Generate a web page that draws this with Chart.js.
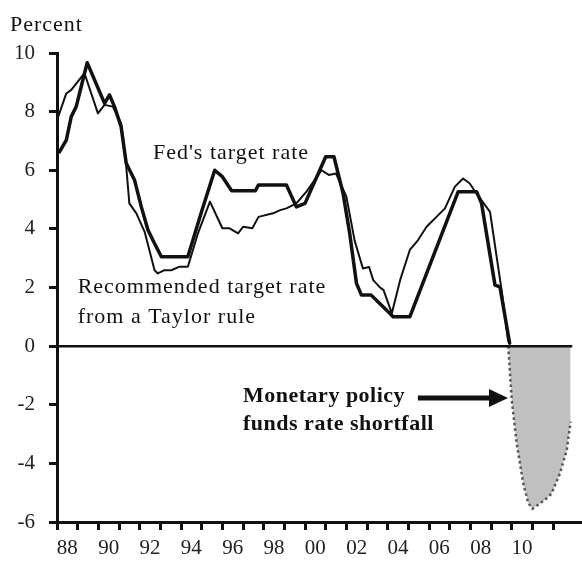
<!DOCTYPE html>
<html>
<head>
<meta charset="utf-8">
<script src="https://cdn.jsdelivr.net/npm/chart.js@4.4.1/dist/chart.umd.min.js"></script>
<style>
html,body{margin:0;padding:0;background:#fff;}
#wrap{width:582px;height:562px;position:relative;}
</style>
</head>
<body>
<div id="wrap"><canvas id="c" width="582" height="562"></canvas></div>
<script>
// ---- Data ----
const fedYears = [1988.0,1988.12,1988.45,1988.69,1988.93,1989.17,1989.46,1990.3,1990.54,1990.78,1991.1,1991.35,1991.75,1992.08,1992.4,1992.72,1993.05,1994.33,1995.0,1995.63,1996.0,1996.45,1997.6,1997.75,1999.1,1999.58,2000.0,2001.0,2001.4,2001.84,2002.16,2002.49,2002.73,2003.2,2003.6,2004.1,2004.26,2005.07,2007.41,2008.3,2008.54,2009.19,2009.43,2009.9];
const fedValues = [6.6,6.63,7.03,7.83,8.17,8.85,9.67,8.28,8.57,8.17,7.49,6.24,5.67,4.75,3.96,3.5,3.05,3.05,4.6,6.0,5.78,5.3,5.3,5.5,5.5,4.75,4.87,6.46,6.46,5.21,3.85,2.14,1.74,1.74,1.46,1.12,1.0,1.0,5.27,5.27,4.87,2.08,2.02,0.1];

const taylorYears = [1988.0,1988.45,1988.69,1989.33,1989.98,1990.3,1990.7,1991.1,1991.35,1991.5,1991.84,1992.24,1992.72,1992.88,1993.2,1993.53,1993.93,1994.33,1994.82,1995.4,1996.0,1996.35,1996.76,1997.0,1997.45,1997.75,1998.45,1998.8,1999.1,1999.58,2000.07,2000.8,2001.15,2001.5,2002.0,2002.4,2002.8,2003.1,2003.3,2003.6,2003.8,2004.2,2004.6,2005.07,2005.47,2005.88,2006.36,2006.77,2007.25,2007.65,2007.97,2008.3,2008.95,2009.51,2009.83];
const taylorValues = [7.71,8.62,8.74,9.31,7.94,8.23,8.17,7.6,6.12,4.87,4.53,3.9,2.59,2.48,2.59,2.59,2.71,2.71,3.85,4.93,4.02,4.02,3.85,4.07,4.02,4.41,4.53,4.64,4.7,4.87,5.27,6.0,5.84,5.89,5.1,3.6,2.65,2.7,2.25,2.02,1.91,1.12,2.25,3.28,3.62,4.07,4.41,4.7,5.44,5.72,5.55,5.2,4.58,1.91,0.15];

const shortfallYears = [2009.83,2010.0,2010.24,2010.56,2010.8,2011.0,2011.3,2011.6,2011.93,2012.33,2012.66,2012.85];
const shortfallValues = [0,-1.84,-3.32,-4.69,-5.35,-5.55,-5.4,-5.25,-5.03,-4.35,-3.55,-2.58];

const zeroLineYears = [1988, 2012.93];
const zeroLineValues = [0, 0];

const yTickValues = [-6,-4,-2,0,2,4,6,8,10];
const xTickYears = [1988,1989,1990,1991,1992,1993,1994,1995,1996,1997,1998,1999,2000,2001,2002,2003,2004,2005,2006,2007,2008,2009,2010,2011,2012];
const xLabelYears = [1988,1990,1992,1994,1996,1998,2000,2002,2004,2006,2008,2010];

const axisTitle = 'Percent';
const noteTexts = [
  {text: "Fed's target rate", x: 1992.64, y: 6.37, bold: false},
  {text: "Recommended target rate", x: 1989.0, y: 1.8, bold: false},
  {text: "from a Taylor rule", x: 1989.0, y: 0.8, bold: false},
  {text: "Monetary policy", x: 1997.0, y: -1.9, bold: true},
  {text: "funds rate shortfall", x: 1997.0, y: -2.87, bold: true}
];
const arrowNote = {x1: 2005.46, x2: 2009.82, y: -1.77};

// ---- helpers ----
const pts = (xs, ys) => xs.map((v, i) => ({x: v, y: ys[i]}));
const FONT = "'Liberation Serif', 'Times New Roman', serif";

const notesPlugin = {
  id: 'notes',
  afterDraw(chart) {
    const {ctx, chartArea} = chart;
    const xs = chart.scales.x, ys = chart.scales.y;
    ctx.save();
    ctx.fillStyle = '#111';
    ctx.textAlign = 'left';
    ctx.textBaseline = 'alphabetic';
    // axis unit title
    ctx.font = '22px ' + FONT;
    ctx.letterSpacing = '1px';
    ctx.fillText(axisTitle, 10, chartArea.top - 22);
    for (const n of noteTexts) {
      ctx.font = (n.bold ? 'bold ' : '') + '22px ' + FONT;
      ctx.letterSpacing = n.bold ? '0.5px' : '1px';
      ctx.fillText(n.text, xs.getPixelForValue(n.x), ys.getPixelForValue(n.y));
    }
    ctx.letterSpacing = '0px';
    // arrow
    const ax1 = xs.getPixelForValue(arrowNote.x1);
    const ax2 = xs.getPixelForValue(arrowNote.x2);
    const ay = ys.getPixelForValue(arrowNote.y);
    ctx.strokeStyle = '#111';
    ctx.lineWidth = 5;
    ctx.beginPath();
    ctx.moveTo(ax1, ay);
    ctx.lineTo(ax2 - 16, ay);
    ctx.stroke();
    ctx.beginPath();
    ctx.moveTo(ax2, ay);
    ctx.lineTo(ax2 - 19, ay - 9);
    ctx.lineTo(ax2 - 19, ay + 9);
    ctx.closePath();
    ctx.fill();
    ctx.restore();
  }
};

new Chart(document.getElementById('c'), {
  type: 'line',
  data: {
    datasets: [
      {label: "Fed's target rate", data: pts(fedYears, fedValues), borderColor: '#111', borderWidth: 3.5, pointRadius: 0, tension: 0, fill: false, borderJoinStyle: 'round', borderCapStyle: 'round'},
      {label: 'Taylor rule', data: pts(taylorYears, taylorValues), borderColor: '#111', borderWidth: 2, pointRadius: 0, tension: 0, fill: false, borderJoinStyle: 'round'},
      {label: 'zero', data: pts(zeroLineYears, zeroLineValues), borderColor: '#111', borderWidth: 2.5, pointRadius: 0, fill: false},
      {label: 'shortfall', data: pts(shortfallYears, shortfallValues), borderColor: '#555', borderWidth: 2.5, borderDash: [2.5, 3], pointRadius: 0, tension: 0, fill: 'origin', backgroundColor: '#c0c0c0'}
    ]
  },
  options: {
    responsive: false,
    devicePixelRatio: 1,
    animation: false,
    events: [],
    layout: {padding: {top: 53, right: 0, bottom: 0, left: 0}},
    plugins: {legend: {display: false}, tooltip: {enabled: false}, title: {display: false}},
    scales: {
      x: {
        type: 'linear',
        min: 1988,
        max: 2013.4,
        afterBuildTicks: (s) => { s.ticks = xTickYears.map(v => ({value: v})); },
        afterFit: (s) => { s.height = 40; },
        ticks: {
          autoSkip: false,
          maxRotation: 0,
          minRotation: 0,
          labelOffset: 10.3,
          padding: 6,
          color: '#222',
          font: {family: FONT, size: 21},
          callback: (v) => xLabelYears.includes(v) ? String(v).slice(2) : ''
        },
        grid: {display: true, drawOnChartArea: false, drawTicks: true, tickLength: 8, tickWidth: 3, tickColor: '#111'},
        border: {display: true, width: 3, color: '#111'}
      },
      y: {
        type: 'linear',
        min: -6,
        max: 10,
        afterBuildTicks: (s) => { s.ticks = yTickValues.map(v => ({value: v})); },
        afterFit: (s) => { s.width = 57; },
        ticks: {
          padding: 14,
          color: '#222',
          font: {family: FONT, size: 21},
          callback: (v) => String(v)
        },
        grid: {display: true, drawOnChartArea: false, drawTicks: true, tickLength: 8, tickWidth: 3, tickColor: '#111'},
        border: {display: true, width: 3, color: '#111'}
      }
    }
  },
  plugins: [notesPlugin]
});
</script>
</body>
</html>
